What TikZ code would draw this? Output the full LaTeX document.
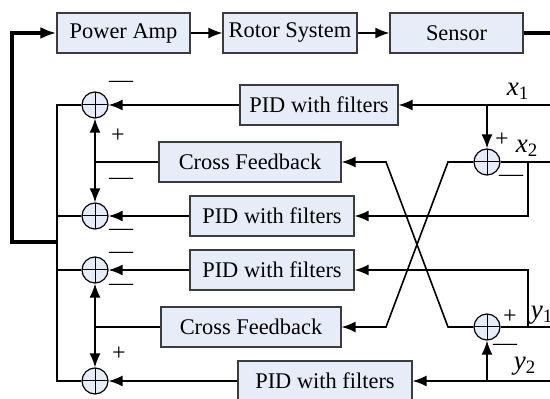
\documentclass[tikz,border=0pt]{standalone}
\usepackage{fontspec}
\setmainfont{Liberation Serif}
\usetikzlibrary{arrows.meta}
\definecolor{kasten}{HTML}{E6EDF8}
\definecolor{rand}{HTML}{3C3C3C}
\tikzset{
  blk/.style={draw=rand,fill=kasten,line width=0.6pt,minimum height=20pt,inner sep=0pt,font=\fontsize{11.2}{13}\selectfont},
  sumk/.style={circle,draw=black,fill=kasten,line width=0.6pt,minimum size=13pt,inner sep=0pt,
    path picture={\draw[line width=0.5pt] (path picture bounding box.north)--(path picture bounding box.south)
      (path picture bounding box.west)--(path picture bounding box.east);}},
  sig/.style={black,line width=0.8pt},
  pfeil/.style={sig,-{Latex[length=7pt,width=5.5pt]}},
  dpfeil/.style={sig,{Latex[length=7pt,width=5.5pt]}-{Latex[length=7pt,width=5.5pt]}},
  dick/.style={black,line width=1.6pt},
  zeichen/.style={font=\fontsize{12}{14}\selectfont,inner sep=0pt},
  groesse/.style={font=\fontsize{13.5}{15}\selectfont,inner sep=0pt},
}

\begin{document}
\begin{tikzpicture}[x=0.5pt,y=-0.5pt]
  \useasboundingbox (0,0) rectangle (550,399);
  % Strecke
  \node[blk,minimum width=66.5pt] (amp) at (123.5,33) {Power Amp};
  \node[blk,minimum width=67pt] (rotor) at (290,33) {Rotor System};
  \node[blk,minimum width=66.5pt] (sensor) at (456.5,33) {Sensor};
  \draw[pfeil] (amp) -- (rotor);
  \draw[pfeil] (rotor) -- (sensor);
  \coordinate (sout) at (550,33);
  \draw[dick] (sensor.east) -- (sout);

  % Regler
  \node[blk,minimum width=79pt] (pid1) at (319,105) {PID with filters};
  \node[blk,minimum width=91pt] (cf1) at (250,162) {Cross Feedback};
  \node[blk,minimum width=82pt] (pid2) at (272,216) {PID with filters};
  \node[blk,minimum width=82pt] (pid3) at (272,270) {PID with filters};
  \node[blk,minimum width=90pt] (cf2) at (251,327) {Cross Feedback};
  \node[blk,minimum width=87pt] (pid4) at (325,381) {PID with filters};

  % Summierstellen
  \node[sumk] (s1) at (95,105) {};
  \node[sumk] (s2) at (95,216) {};
  \node[sumk] (s3) at (95,270) {};
  \node[sumk] (s4) at (95,381) {};
  \node[sumk] (s5) at (487,162) {};
  \node[sumk] (s6) at (487,327) {};

  % Eingaenge rechts
  \coordinate (x1in) at (550,105);
  \coordinate (x2in) at (550,162);
  \coordinate (y1in) at (550,327);
  \coordinate (y2in) at (550,381);
  \coordinate (x2k) at (528,162);
  \coordinate (y1k) at (528,327);

  \draw[pfeil] (x1in) -- (pid1.east);
  \draw[pfeil] (x1in -| s5) -- (s5.north);
  \draw[sig] (x2in) -- (s5.east);
  \draw[pfeil] (x2k) |- (pid2.east);
  \draw[pfeil] (s5.west) -- (448,162) -- (386,327) -- (cf2.east);
  \draw[sig] (y1in) -- (s6.east);
  \draw[pfeil] (y1k) |- (pid3.east);
  \draw[pfeil] (s6.west) -- (448,327) -- (386,162) -- (cf1.east);
  \draw[pfeil] (y2in) -- (pid4.east);
  \draw[pfeil] (y2in -| s6) -- (s6.south);

  % Regler -> Summierstellen
  \draw[pfeil] (pid1.west) -- (s1.east);
  \draw[pfeil] (pid2.west) -- (s2.east);
  \draw[pfeil] (pid3.west) -- (s3.east);
  \draw[pfeil] (pid4.west) -- (s4.east);
  \draw[dpfeil] (s1.south) -- (s2.north);
  \draw[sig] (cf1.west) -- (cf1.west -| s1);
  \draw[dpfeil] (s3.south) -- (s4.north);
  \draw[sig] (cf2.west) -- (cf2.west -| s3);

  % Sammelleitung und Rueckfuehrung
  \coordinate (bt) at (57,105);
  \coordinate (bb) at (57,381);
  \coordinate (bus) at (57,242);
  \draw[sig] (s1.west) -- (bt) -- (bb) -- (s4.west);
  \draw[sig] (s2.west) -- (s2.west -| bt);
  \draw[sig] (s3.west) -- (s3.west -| bt);
  \draw[dick,-{Latex[length=8pt,width=6pt]}] (bus) -- ++(-45,0) |- (amp.west);

  % Vorzeichen
  \node[zeichen] at (121,84) {---};
  \node[zeichen] at (118,136) {+};
  \node[zeichen] at (121,181) {---};
  \node[zeichen] at (121,232) {---};
  \node[zeichen] at (121,255) {---};
  \node[zeichen] at (121,287) {---};
  \node[zeichen] at (119,354) {+};
  \node[zeichen] at (502,140) {+};
  \node[zeichen] at (511,178) {---};
  \node[zeichen] at (510,317) {+};
  \node[zeichen] at (505,347) {---};

  % Messgroessen
  \node[groesse] at (518,91) {\textit{x}\textsubscript{1}};
  \node[groesse] at (527,148) {\textit{x}\textsubscript{2}};
  \node[groesse] at (542,315) {\textit{y}\textsubscript{1}};
  \node[groesse] at (525,366) {\textit{y}\textsubscript{2}};
\end{tikzpicture}
\end{document}
